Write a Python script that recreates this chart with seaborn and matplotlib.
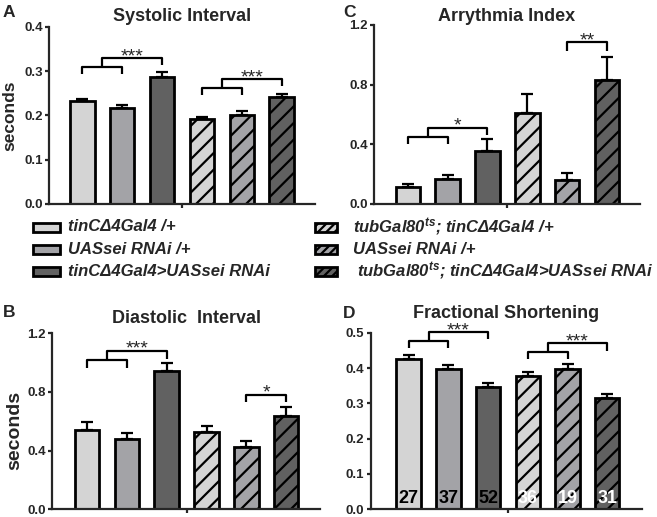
import matplotlib
matplotlib.use("Agg")
import numpy as np
import pandas as pd
import matplotlib.pyplot as plt
from matplotlib.patches import Rectangle
import seaborn as sns

# Settings
sns.set_style("ticks")
plt.rcParams['font.family'] = ['Liberation Sans', 'DejaVu Sans']
plt.rcParams['font.weight'] = 'bold'
plt.rcParams['mathtext.fontset'] = 'custom'
plt.rcParams['mathtext.it'] = 'Liberation Sans:italic:bold'
plt.rcParams['mathtext.rm'] = 'Liberation Sans:bold'
plt.rcParams['hatch.linewidth'] = 1.6
plt.rcParams['hatch.color'] = 'black'

# ── Data ──────────────────────────────────────────
genotypes = ['tinC', 'sei', 'tinC_sei', 'ts_tinC', 'ts_sei', 'ts_tinC_sei']
legend_left = ['tinCΔ4Gal4 /+', 'UASsei RNAi /+', 'tinCΔ4Gal4>UASsei RNAi']
legend_right = [r'tubGal80$^{ts}$; tinCΔ4Gal4 /+', 'UASsei RNAi /+',
                r'tubGal80$^{ts}$; tinCΔ4Gal4>UASsei RNAi']
bar_colors = ['#d4d4d4', '#a3a3a7', '#616161', '#d4d4d4', '#a3a3a7', '#616161']
hatched = [False, False, False, True, True, True]

systolic_mean = [0.232, 0.216, 0.288, 0.191, 0.202, 0.241]
systolic_sem = [0.006, 0.008, 0.011, 0.005, 0.008, 0.007]
arrhythmia_mean = [0.116, 0.168, 0.358, 0.609, 0.163, 0.830]
arrhythmia_sem = [0.020, 0.029, 0.076, 0.127, 0.043, 0.155]
diastolic_mean = [0.541, 0.477, 0.945, 0.527, 0.427, 0.634]
diastolic_sem = [0.052, 0.043, 0.050, 0.043, 0.041, 0.061]
fs_mean = [0.425, 0.398, 0.347, 0.377, 0.396, 0.314]
fs_sem = [0.011, 0.010, 0.011, 0.013, 0.014, 0.012]
n_flies = [27, 37, 52, 36, 19, 31]

# (left group, right bar, y low, y high, leg, label)
sys_brackets = [((0, 1), 2, 0.310, 0.330, 0.016, '***'), ((3, 4), 5, 0.262, 0.282, 0.016, '***')]
arr_brackets = [((0, 1), 2, 0.452, 0.512, 0.05, '*'), ((4,), 5, 1.083, 1.083, 0.056, '**')]
dia_brackets = [((0, 1), 2, 1.018, 1.081, 0.057, '***'), ((4,), 5, 0.781, 0.781, 0.048, '*')]
fs_brackets = [((0, 1), 2, 0.476, 0.501, 0.02, '***'), ((3, 4), 5, 0.446, 0.470, 0.021, '***')]

W, H = 657, 517
fig = plt.figure(figsize=(W / 100, H / 100), dpi=100)


def rect(x0, y_top, x1, y_bot):
    return [x0 / W, 1 - y_bot / H, (x1 - x0) / W, (y_bot - y_top) / H]


def draw_panel(ax, means, sems, yticks, xlim, title, pad, brackets):
    df = pd.DataFrame({'genotype': genotypes, 'mean': means})
    sns.barplot(data=df, x='genotype', y='mean', hue='genotype', order=genotypes,
                hue_order=genotypes, palette=dict(zip(genotypes, bar_colors)),
                width=0.62, edgecolor='black', linewidth=2, saturation=1,
                errorbar=None, legend=False, ax=ax)
    for patch, h in zip(ax.patches, hatched):
        if h:
            patch.set_hatch('//')
    ax.errorbar(np.arange(len(means)), means, yerr=[np.zeros(len(sems)), sems],
                fmt='none', ecolor='black', elinewidth=1.6, capsize=4.5, capthick=1.6)
    for (left, right, y_lo, y_hi, leg, label) in brackets:
        kw = dict(color='black', lw=1.6, clip_on=False, solid_capstyle='butt')
        if len(left) == 2:
            i, j = left
            mid = (i + j) / 2
            ax.plot([i, i, j, j], [y_lo - leg, y_lo, y_lo, y_lo - leg], **kw)
            ax.plot([mid, mid, right, right], [y_lo, y_hi, y_hi, y_hi - leg], **kw)
            xs = (mid + right) / 2
        else:
            i = left[0]
            ax.plot([i, i, right, right], [y_hi - leg, y_hi, y_hi, y_hi - leg], **kw)
            xs = (i + right) / 2
        ax.annotate(label, (xs, y_hi), xytext=(0, -2.2), textcoords='offset points',
                    ha='center', va='baseline', fontsize=14, fontweight='normal')
    ax.set_xlim(xlim)
    ax.set_ylim(yticks[0], yticks[-1])
    ax.set_yticks(yticks)
    ax.set_yticklabels([f'{t:.1f}' for t in yticks])
    ax.set_xticks([2.5])
    ax.set_xticklabels([''])
    ax.set_xlabel('')
    ax.set_ylabel('')
    ax.set_title(title, fontsize=13, fontweight='bold', pad=pad)
    sns.despine(ax=ax)
    for s in ['left', 'bottom']:
        ax.spines[s].set_linewidth(1.6)
    ax.tick_params(direction='out', length=3, width=1.6, labelsize=9.5, pad=1.5)


axA = fig.add_axes(rect(49, 27, 315, 204))
draw_panel(axA, systolic_mean, systolic_sem, [0.0, 0.1, 0.2, 0.3, 0.4],
           (-0.83, 5.83), 'Systolic Interval', 4.5, sys_brackets)
axC = fig.add_axes(rect(374, 25, 640, 204))
draw_panel(axC, arrhythmia_mean, arrhythmia_sem, [0.0, 0.4, 0.8, 1.2],
           (-0.85, 5.83), 'Arrythmia Index', 2.4, arr_brackets)
axB = fig.add_axes(rect(52, 333.3, 320, 509.3))
draw_panel(axB, diastolic_mean, diastolic_sem, [0.0, 0.4, 0.8, 1.2],
           (-0.88, 5.85), 'Diastolic  Interval', 7.2, dia_brackets)
axD = fig.add_axes(rect(370.7, 332.7, 641.7, 509.3))
draw_panel(axD, fs_mean, fs_sem, [0.0, 0.1, 0.2, 0.3, 0.4, 0.5],
           (-0.96, 5.87), 'Fractional Shortening', 10.6, fs_brackets)

# n per genotype inside the bars
for i, n in enumerate(n_flies):
    axD.text(i, 0.031, str(n), ha='center', va='center', fontsize=13, fontweight='bold',
             color='white' if hatched[i] else 'black')

axA.set_ylabel('seconds', fontsize=12.5, fontweight='bold')
axA.yaxis.set_label_coords(-0.118, 0.5)
axB.set_ylabel('seconds', fontsize=14, fontweight='bold')
axB.yaxis.set_label_coords(-0.108, 0.45)

# panel letters
for letter, x, y in [('A', 3, 17), ('C', 343, 17), ('B', 3, 317), ('D', 343, 318)]:
    fig.text(x / W, 1 - y / H, letter, fontsize=12.5, fontweight='bold', va='baseline')

# ── Legend ───────────────────────────────────────
rows = [227, 249, 271]
for k, y in enumerate(rows):
    fig.add_artist(Rectangle((33 / W, 1 - (y + 4.5) / H), 27 / W, 9 / H, transform=fig.transFigure,
                             facecolor=bar_colors[k], edgecolor='black', lw=2))
    fig.text(68 / W, 1 - y / H, legend_left[k], fontsize=12, fontweight='bold',
             fontstyle='italic', va='center')
    fig.add_artist(Rectangle((315 / W, 1 - (y + 4.5) / H), 22 / W, 9 / H, transform=fig.transFigure,
                             facecolor=bar_colors[k + 3], edgecolor='black', lw=2, hatch='////'))
    fig.text((353 if k < 2 else 357) / W, 1 - y / H, legend_right[k], fontsize=12,
             fontweight='bold', fontstyle='italic', va='center')

plt.savefig('out.png', dpi=100)
plt.close()
